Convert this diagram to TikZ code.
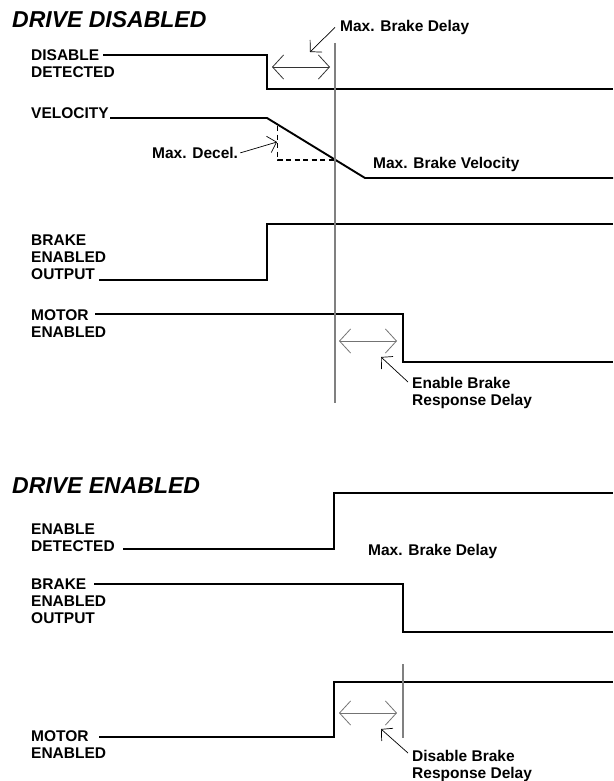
\documentclass[tikz,border=0pt]{standalone}
\usepackage{fontspec}
\setmainfont{Liberation Sans}
\usetikzlibrary{arrows.meta}
\begin{document}
\begin{tikzpicture}[x=1pt,y=-1pt,
  sig/.style={line width=1.9pt, line join=miter},
  guide/.style={line width=1.1pt, draw=black!50},
  dimarrow/.style={line width=0.8pt, {Straight Barb[length=11pt,width=24pt]}-{Straight Barb[length=11pt,width=24pt]}},
  leader/.style={line width=0.7pt, -{Straight Barb[length=8pt,width=17pt]}},
  lbl/.style={anchor=north west, inner sep=0pt, align=left, font=\fontsize{15.5}{17}\selectfont\bfseries},
  ttl/.style={anchor=north west, inner sep=0pt, font=\fontsize{23}{26}\selectfont\bfseries\itshape},
  dashline/.style={line width=1.6pt, dash pattern=on 5pt off 3.5pt}
]
\useasboundingbox (0,0) rectangle (613,781);

% ---------- DRIVE DISABLED ----------
\node[ttl] (title1) at (12,11.5) {DRIVE DISABLED};
\node[lbl] (disdet) at (31,49.3) {DISABLE\\DETECTED};
\node[lbl] (vel) at (31,107) {VELOCITY};
\node[lbl] (maxdecel) at (152,147) {Max. Decel.};
\node[lbl] (mbd1) at (340,20) {Max. Brake Delay};
\node[lbl] (mbv) at (373,157) {Max. Brake Velocity};
\node[lbl] (beo1) at (31,235) {BRAKE\\ENABLED\\OUTPUT};
\node[lbl] (me1) at (31,309) {MOTOR\\ENABLED};
\node[lbl] (ebrd) at (412,377) {Enable Brake\\Response Delay};

% signal coordinates
\coordinate (s1a) at (103,55);  \coordinate (s1b) at (267,55);
\coordinate (s1c) at (267,89);  \coordinate (s1d) at (613,89);
\coordinate (s2a) at (110,118); \coordinate (s2b) at (267,118);
\coordinate (s2c) at (365,178); \coordinate (s2d) at (613,178);
\coordinate (s3a) at (99,280);  \coordinate (s3b) at (267,280);
\coordinate (s3c) at (267,224); \coordinate (s3d) at (613,224);
\coordinate (s4a) at (95,314);  \coordinate (s4b) at (403,314);
\coordinate (s4c) at (403,362); \coordinate (s4d) at (613,362);

\draw[sig] (s1a) -- (s1b) -- (s1c) -- (s1d);
\draw[sig] (s2a) -- (s2b) -- (s2c) -- (s2d);
\draw[sig] (s3a) -- (s3b) -- (s3c) -- (s3d);
\draw[sig] (s4a) -- (s4b) -- (s4c) -- (s4d);

% dashed deceleration guide
\coordinate (d1) at (277.5,126); \coordinate (d2) at (277.5,160); \coordinate (d3) at (335,160);
\draw[dashline] (d1) -- (d2) -- (d3);

% vertical guide
\coordinate (g1a) at (335,43); \coordinate (g1b) at (335,403);
\draw[guide] (g1a) -- (g1b);

% dimension arrows
\coordinate (a1l) at (272,67); \coordinate (a1r) at (330,67);
\draw[dimarrow, draw=black!80] (a1l) -- (a1r);
\coordinate (a2l) at (339,341); \coordinate (a2r) at (397,341);
\draw[dimarrow, draw=black!55] (a2l) -- (a2r);

% leaders
\coordinate (t1) at (310,52);
\draw[leader] ([xshift=-5pt]mbd1.west) -- (t1);
\coordinate (t2) at (277,142);
\draw[leader] ([xshift=2pt]maxdecel.east) -- (t2);
\coordinate (t3) at (381,357);
\draw[leader] ([shift={(-4pt,-5pt)}]ebrd.north west) -- (t3);

% ---------- DRIVE ENABLED ----------
\node[ttl] (title2) at (12,477.5) {DRIVE ENABLED};
\node[lbl] (ed) at (31,524) {ENABLE\\DETECTED};
\node[lbl] (mbd2) at (368,544) {Max. Brake Delay};
\node[lbl] (beo2) at (31,579) {BRAKE\\ENABLED\\OUTPUT};
\node[lbl] (me2) at (31,730) {MOTOR\\ENABLED};
\node[lbl] (dbrd) at (412,750) {Disable Brake\\Response Delay};

\coordinate (e1a) at (123,549); \coordinate (e1b) at (334,549);
\coordinate (e1c) at (334,493); \coordinate (e1d) at (613,493);
\coordinate (e2a) at (94,584);  \coordinate (e2b) at (403,584);
\coordinate (e2c) at (403,632); \coordinate (e2d) at (613,632);
\coordinate (e3a) at (99,737);  \coordinate (e3b) at (334,737);
\coordinate (e3c) at (334,682); \coordinate (e3d) at (613,682);

\draw[sig] (e1a) -- (e1b) -- (e1c) -- (e1d);
\draw[sig] (e2a) -- (e2b) -- (e2c) -- (e2d);
\draw[sig] (e3a) -- (e3b) -- (e3c) -- (e3d);

\coordinate (g2a) at (403,664); \coordinate (g2b) at (403,738);
\draw[guide] (g2a) -- (g2b);

\coordinate (a3l) at (339,713); \coordinate (a3r) at (397,713);
\draw[dimarrow, draw=black!55] (a3l) -- (a3r);

\coordinate (t4) at (381,729);
\draw[leader] ([shift={(-4pt,-3pt)}]dbrd.north west) -- (t4);
\end{tikzpicture}
\end{document}
